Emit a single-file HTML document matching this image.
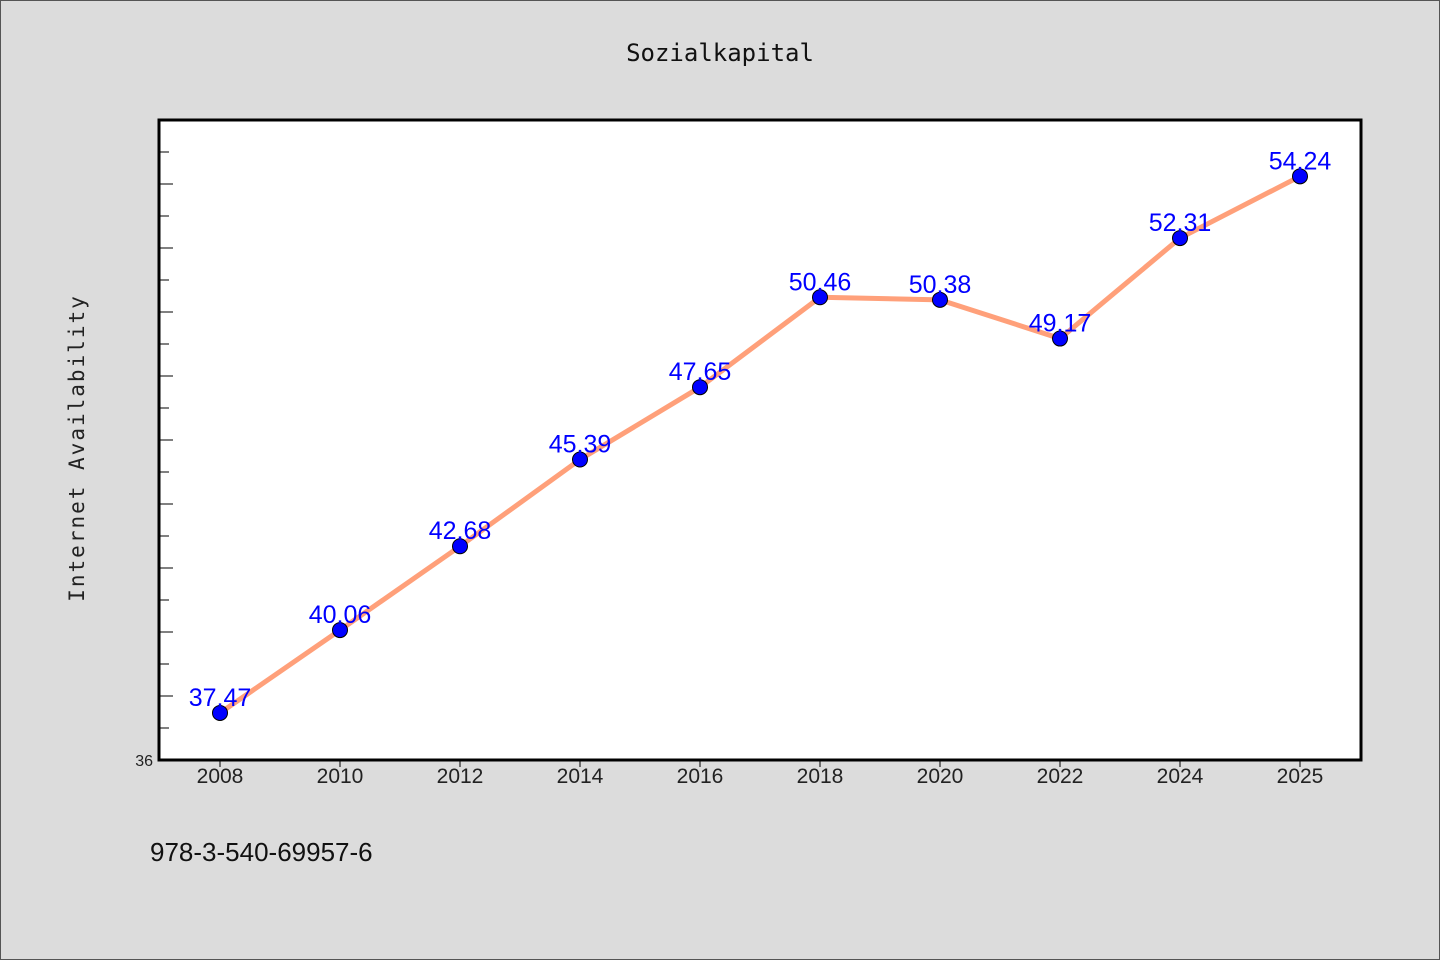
<!DOCTYPE html>
<html><head><meta charset="utf-8"><style>
html,body{margin:0;padding:0;background:#dcdcdc;}
svg{display:block}
</style></head><body>
<svg width="1440" height="960" xmlns="http://www.w3.org/2000/svg">
<rect x="0.5" y="0.5" width="1439" height="959" fill="#dcdcdc" stroke="#555"/>
<text x="720" y="61" text-anchor="middle" font-family="DejaVu Sans Mono, Liberation Mono, monospace" font-size="24" fill="#111">Sozialkapital</text>
<text transform="translate(84,448) rotate(-90)" text-anchor="middle" font-family="DejaVu Sans Mono, Liberation Mono, monospace" font-size="21" fill="#222" letter-spacing="2">Internet Availability</text>
<rect x="159" y="120" width="1202" height="640" fill="#fff" stroke="#000" stroke-width="3"/>
<g id="yticks"></g><g id="xticks"></g>
<polyline id="line" fill="none" stroke="#ffa07a" stroke-width="5" stroke-linejoin="round"/>
<g id="points"></g><g id="labels"></g>
<text x="150" y="861" font-family="Liberation Sans, sans-serif" font-size="26" fill="#111">978-3-540-69957-6</text>
</svg>
<script>
const categories=["2008","2010","2012","2014","2016","2018","2020","2022","2024","2025"];
const values=[37.47,40.06,42.68,45.39,47.65,50.46,50.38,49.17,52.31,54.24];
const valueLabels=["37,47","40,06","42,68","45,39","47,65","50,46","50,38","49,17","52,31","54,24"];
const yMin=36, yMax=56;
const ns="http://www.w3.org/2000/svg";
const x=i=>220+i*120;
const y=v=>760-(v-yMin)*(640/(yMax-yMin));
function mk(t,a,p){const e=document.createElementNS(ns,t);for(const k in a)e.setAttribute(k,a[k]);document.getElementById(p).appendChild(e);return e;}
for(let v=yMin+1;v<yMax;v++){
 const long=v%2===0;
 const t=mk('line',{x1:160,x2:long?173:169,y1:y(v),y2:y(v),stroke:'#000','stroke-width':1},'yticks');
 
 
}
const yl=mk('text',{x:153,y:766,'text-anchor':'end','font-family':'Liberation Sans, sans-serif','font-size':16,fill:'#222'},'yticks');
yl.textContent=String(yMin);


categories.forEach((c,i)=>{
 const t=mk('line',{x1:x(i),x2:x(i),y1:761,y2:767,stroke:'#000','stroke-width':1},'xticks');
 
 
 const l=mk('text',{x:x(i),y:783,'text-anchor':'middle','font-family':'Liberation Sans, sans-serif','font-size':21,fill:'#222'},'xticks');
 l.textContent=c;
 
 
});
document.getElementById('line').setAttribute('points',values.map((v,i)=>x(i)+','+y(v)).join(' '));
values.forEach((v,i)=>{
 const p=mk('circle',{cx:x(i),cy:y(v),r:7.5,fill:'#0000ff',stroke:'#000','stroke-width':1},'points');
 
 
 const l=mk('text',{x:x(i),y:y(v)-7,'text-anchor':'middle','font-family':'Liberation Sans, sans-serif','font-size':25,fill:'#0000ff'},'labels');
 l.textContent=valueLabels[i];
 
 
});
</script>
</body></html>
